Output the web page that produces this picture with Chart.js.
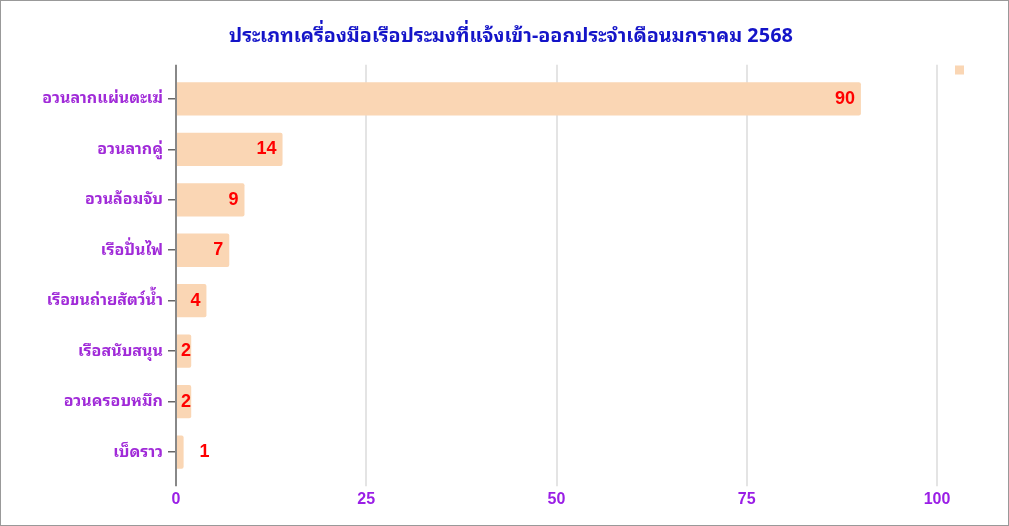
<!DOCTYPE html>
<html>
<head>
<meta charset="utf-8">
<script src="https://cdn.jsdelivr.net/npm/chart.js@4"></script>
<style>
  html, body { margin: 0; padding: 0; background: #fff; }
  .box { width: 1007px; height: 524px; border: 1px solid #999; position: relative; }
</style>
</head>
<body>
<div class="box">
  <canvas id="myChart" width="1007" height="524"></canvas>
</div>
<script>
const chartTitle = 'ประเภทเครื่องมือเรือประมงที่แจ้งเข้า-ออกประจำเดือนมกราคม 2568';
const categories = ['อวนลากแผ่นตะเฆ่', 'อวนลากคู่', 'อวนล้อมจับ', 'เรือปั่นไฟ', 'เรือขนถ่ายสัตว์น้ำ', 'เรือสนับสนุน', 'อวนครอบหมึก', 'เบ็ดราว'];
const counts = [90, 14, 9, 7, 4, 2, 2, 1];
const xTicks = [0, 25, 50, 75, 100];

const thaiFont = "Tahoma, 'Noto Sans Thai Looped', 'Noto Sans Thai', 'Noto Sans', sans-serif";
const numFont = "Arial, 'Liberation Sans', sans-serif";

// วาดตัวเลขบนแท่ง
const valueLabels = {
  id: 'valueLabels',
  afterDatasetsDraw(chart) {
    const ctx = chart.ctx;
    const meta = chart.getDatasetMeta(0);
    ctx.save();
    ctx.font = 'bold 18px ' + numFont;
    ctx.fillStyle = '#ff0000';
    ctx.textBaseline = 'middle';
    meta.data.forEach((bar, i) => {
      const txt = String(counts[i]);
      const w = ctx.measureText(txt).width;
      const barW = bar.x - bar.base;
      if (barW >= w) {
        ctx.textAlign = 'right';
        ctx.fillText(txt, Math.max(bar.x - 6, bar.base + 4 + w), bar.y);
      } else {
        ctx.textAlign = 'left';
        ctx.fillText(txt, bar.x + 16, bar.y);
      }
    });
    ctx.restore();
  }
};

const gridColor = c => (c.tick && c.tick.value === 0) ? '#888' : '#e4e4e4';

const ctx = document.getElementById('myChart').getContext('2d');
new Chart(ctx, {
  type: 'bar',
  data: {
    labels: categories,
    datasets: [{
      label: '',
      data: counts,
      backgroundColor: 'rgba(250, 214, 180, 1)',
      borderWidth: 0,
      borderRadius: 2,
      barPercentage: 0.9,
      categoryPercentage: 0.733
    }]
  },
  options: {
    indexAxis: 'y',
    responsive: false,
    animation: false,
    layout: { padding: { left: 41, right: 28, top: 0, bottom: 11.5 } },
    plugins: {
      title: {
        display: true,
        text: chartTitle,
        color: '#1414c8',
        font: { family: thaiFont, size: 19.7, weight: 'bold' },
        padding: { top: 24, bottom: 16 }
      },
      legend: {
        position: 'right',
        align: 'start',
        title: { display: true, text: ' ', font: { size: 10 }, padding: { top: 33, bottom: 0 } },
        labels: { boxWidth: 9, boxHeight: 9, padding: 18, font: { size: 12 } }
      },
      tooltip: { enabled: false }
    },
    scales: {
      x: {
        min: 0,
        max: 100,
        afterBuildTicks(axis) { axis.ticks = xTicks.map(v => ({ value: v })); },
        grid: { color: gridColor, lineWidth: 2, tickLength: 9 },
        border: { display: false },
        ticks: {
          color: '#9a1ee6',
          padding: 4,
          font: { family: numFont, size: 16, weight: 'bold' }
        }
      },
      xTop: {
        position: 'top',
        axis: 'x',
        min: 0,
        max: 100,
        afterBuildTicks(axis) { axis.ticks = xTicks.map(v => ({ value: v })); },
        grid: { color: gridColor, lineWidth: 2, tickLength: 9, drawOnChartArea: false },
        border: { display: false },
        ticks: { display: false }
      },
      y: {
        afterFit(axis) { axis.width = 134; },
        grid: { offset: false, drawOnChartArea: false, color: '#666', tickLength: 8, lineWidth: 1.5 },
        border: { color: '#888', width: 2 },
        ticks: {
          color: '#a02ad8',
          padding: 5,
          font: { family: thaiFont, size: 16, weight: 'bold' }
        }
      }
    }
  },
  plugins: [valueLabels]
});
</script>
</body>
</html>
